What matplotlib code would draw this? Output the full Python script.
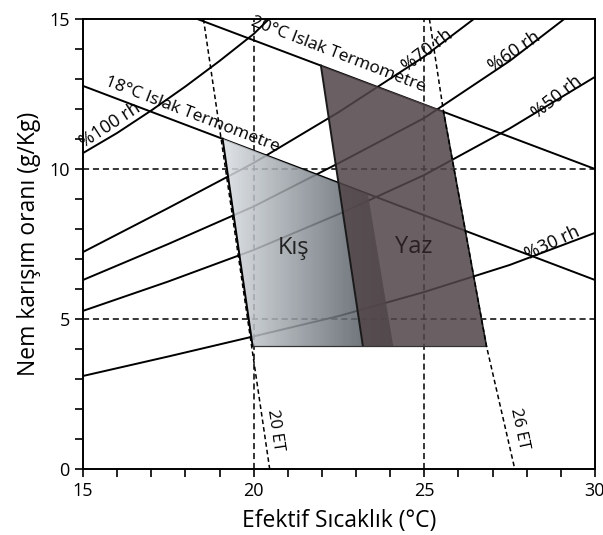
import numpy as np
import matplotlib
matplotlib.use("Agg")
import matplotlib.pyplot as plt
from matplotlib.patches import Polygon
from matplotlib.colors import LinearSegmentedColormap

plt.rcParams['font.family'] = ['Open Sans', 'DejaVu Sans']

# bagil nem egrileri (efektif sicaklik, karisim orani)
rh100_x = [15, 16, 17, 18, 19, 20, 20.45]
rh100_y = [10.53, 11.2, 11.95, 12.75, 13.6, 14.5, 15.0]
rh70_x = [15, 17.5, 20, 22.5, 25, 26.45]
rh70_y = [7.23, 8.7, 10.2, 11.9, 13.75, 15.0]
rh60_x = [15, 17.5, 20, 22.5, 25, 27.5, 29.1]
rh60_y = [6.3, 7.5, 8.75, 10.2, 11.7, 13.6, 15.0]
rh50_x = [15, 17.5, 20, 22.5, 25, 27.5, 30]
rh50_y = [5.27, 6.25, 7.3, 8.5, 9.8, 11.35, 13.07]
rh30_x = [15, 17.5, 20, 22.5, 25, 27.5, 30]
rh30_y = [3.1, 3.75, 4.42, 5.1, 5.9, 6.8, 7.87]

# islak termometre dogrulari
wb18_x = [15, 30]
wb18_y = [12.77, 6.3]
wb20_x = [18.35, 30]
wb20_y = [15, 10.0]

# efektif sicaklik cizgileri
et20_x = [18.53, 20.47]
et20_y = [15, 0]
et26_x = [25.15, 25.56, 26.82, 27.65]
et26_y = [15, 11.93, 4.1, 0]

# konfor bolgeleri
kis_x = [19.09, 23.35, 24.09, 19.97]
kis_y = [11.01, 9.15, 4.1, 4.1]
yaz_x = [21.97, 25.56, 26.82, 23.2]
yaz_y = [13.45, 11.93, 4.1, 4.1]


def main():
    fig = plt.figure(figsize=(6.03, 5.35), dpi=100)
    ax = fig.add_axes([0.1376, 0.1234, 0.8491, 0.8411])
    ax.set_xlim(15, 30)
    ax.set_ylim(0, 15)

    # kesikli yardimci cizgiler
    for yv in [5, 10]:
        ax.plot([15, 30], [yv, yv], color='black', lw=1.1, ls=(0, (4, 2.5)), zorder=1)
    for xv in [20, 25]:
        ax.plot([xv, xv], [0, 15], color='black', lw=1.1, ls=(0, (4, 2.5)), zorder=1)

    for xs, ys in [(rh100_x, rh100_y), (rh70_x, rh70_y), (rh60_x, rh60_y),
                   (rh50_x, rh50_y), (rh30_x, rh30_y), (wb18_x, wb18_y), (wb20_x, wb20_y)]:
        ax.plot(xs, ys, color='black', lw=1.4, zorder=2, solid_capstyle='butt')

    # kis bolgesi - gradyan dolgu
    kis_poly = Polygon(list(zip(kis_x, kis_y)), closed=True, facecolor='none', edgecolor='none')
    ax.add_patch(kis_poly)
    cmap = LinearSegmentedColormap.from_list('kis', ['#dde1e5', '#8a9197', '#3c434a'])
    grad = np.linspace(0, 1, 256).reshape(1, -1)
    im = ax.imshow(grad, cmap=cmap, extent=[19.0, 24.1, 4.0, 11.1], aspect='auto',
                   alpha=0.86, zorder=3, interpolation='bilinear')
    im.set_clip_path(kis_poly)

    # yaz bolgesi
    yaz_poly = Polygon(list(zip(yaz_x, yaz_y)), closed=True, facecolor='#524649',
                       edgecolor='none', alpha=0.86, zorder=4)
    ax.add_patch(yaz_poly)

    # bolge kenarlari
    ax.plot([kis_x[0], kis_x[3]], [kis_y[0], kis_y[3]], color='black', lw=1.4, zorder=5)
    ax.plot([yaz_x[0], yaz_x[3]], [yaz_y[0], yaz_y[3]], color='#1a1a1a', lw=1.4, zorder=5)
    ax.plot([kis_x[3], yaz_x[2]], [kis_y[3], yaz_y[2]], color='#333333', lw=0.9, zorder=5)
    ax.plot([yaz_x[1], yaz_x[2]], [yaz_y[1], yaz_y[2]], color='#222222', lw=1.2, zorder=5)

    ax.plot(et20_x, et20_y, color='black', lw=1.1, ls=(0, (3, 2)), zorder=6)
    ax.plot(et26_x, et26_y, color='black', lw=1.1, ls=(0, (3, 2)), zorder=6)

    # yazilar
    ax.text(18.1, 11.55, '18°C Islak Termometre', rotation=-21, rotation_mode='anchor',
            ha='center', va='bottom', fontsize=12.5, zorder=7)
    ax.text(22.4, 13.55, '20°C Islak Termometre', rotation=-21, rotation_mode='anchor',
            ha='center', va='bottom', fontsize=12.5, zorder=7)
    ax.text(15.95, 11.2, '%100 rh', rotation=33, rotation_mode='anchor',
            ha='center', va='bottom', fontsize=13, zorder=7)
    ax.text(25.25, 13.7, '%70 rh', rotation=37, rotation_mode='anchor',
            ha='center', va='bottom', fontsize=13, zorder=7)
    ax.text(27.8, 13.65, '%60 rh', rotation=34, rotation_mode='anchor',
            ha='center', va='bottom', fontsize=13, zorder=7)
    ax.text(29.05, 12.15, '%50 rh', rotation=38, rotation_mode='anchor',
            ha='center', va='bottom', fontsize=13, zorder=7)
    ax.text(28.85, 7.25, '%30 rh', rotation=25, rotation_mode='anchor',
            ha='center', va='bottom', fontsize=13, zorder=7)
    ax.text(20.62, 1.3, '20 ET', rotation=-81.5, ha='center', va='center', fontsize=12, zorder=7)
    ax.text(27.78, 1.35, '26 ET', rotation=-78, ha='center', va='center', fontsize=12, zorder=7)
    ax.text(21.18, 7.37, 'Kış', ha='center', va='center', fontsize=17, color='#222222', zorder=7)
    ax.text(24.68, 7.4, 'Yaz', ha='center', va='center', fontsize=17, color='#2a2024', zorder=7)

    ax.set_xticks([15, 20, 25, 30])
    ax.set_yticks([0, 5, 10, 15])
    ax.set_xticks(np.arange(15, 31), minor=True)
    ax.set_yticks(np.arange(0, 16), minor=True)
    ax.tick_params(which='both', direction='out', length=6, width=1.2, labelsize=13)
    for s in ax.spines.values():
        s.set_linewidth(1.4)

    ax.set_xlabel('Efektif Sıcaklık (°C)', fontsize=16.5, labelpad=6)
    ax.set_ylabel('Nem karışım oranı (g/Kg)', fontsize=16.5, labelpad=6)

    fig.savefig('out.png', dpi=100)


if __name__ == "__main__":
    main()
